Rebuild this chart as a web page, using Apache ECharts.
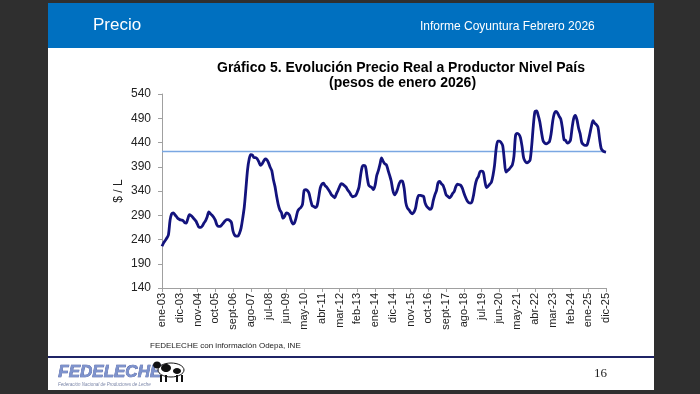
<!DOCTYPE html>
<html><head><meta charset="utf-8">
<script src="https://cdn.jsdelivr.net/npm/echarts@6/dist/echarts.min.js"></script>
<style>html,body{margin:0;padding:0;background:#2f2f2f}#c{width:700px;height:394px}</style>
</head><body><div id="c"></div>
<script>
const monthNames = ['ene','feb','mar','abr','may','jun','jul','ago','sept','oct','nov','dic'];
const years = ['03','04','05','06','07','08','09','10','11','12','13','14','15','16','17','18','19','20','21','22','23','24','25'];
const price = [
226,233,238,243,250,280,293,295,291,287,283,281,
280,279,275,274,283,291,289,286,282,278,271,265,
265,268,274,279,287,297,293,290,286,280,270,267,
267,270,274,278,281,281,279,275,257,249,247,247,
253,264,284,308,346,384,406,415,414,409,409,406,
400,393,396,402,406,404,398,389,382,363,349,329,
312,301,295,284,288,295,294,290,279,272,274,284,
298,303,306,312,341,343,341,336,322,310,308,306,
309,326,346,354,356,351,348,343,338,332,329,326,
334,341,349,355,354,351,348,342,338,332,328,329,
331,338,348,372,390,393,391,370,352,349,347,343,
352,372,382,395,408,401,396,394,383,372,360,341,
332,336,345,356,361,360,345,316,305,301,296,293,
296,304,322,331,331,330,329,315,308,305,302,305,
320,332,341,357,360,355,352,343,332,329,326,329,
335,339,349,354,353,352,346,336,327,320,316,315,
318,332,352,364,370,380,381,379,360,347,350,354,
358,372,394,428,443,443,440,434,405,379,382,385,
389,394,412,455,459,457,450,432,408,401,398,400,
404,434,475,504,505,496,483,462,444,439,437,439,
442,458,484,500,504,501,494,488,470,446,444,439,
440,445,470,490,496,487,470,458,440,436,434,434,
443,458,474,485,480,477,472,448,428,423,421,420
];
const yTicks = [140,190,240,290,340,390,440,490,540];
const refValue = 421;

const categories = [];
years.forEach(y => monthNames.forEach(m => categories.push(m + '-' + y)));

const chart = echarts.init(document.getElementById('c'), null, {renderer:'canvas'});
const F = 'Liberation Sans, Arial, sans-serif';
chart.setOption({
  backgroundColor: '#2f2f2f',
  animation: false,
  graphic: [
    {type:'rect', z:-10, shape:{x:48,y:3,width:606,height:387}, style:{fill:'#ffffff'}},
    {type:'rect', z:-9, shape:{x:48,y:3,width:606,height:45}, style:{fill:'#0070c0'}},
    {type:'text', z:-8, left:93, top:17, style:{text:'Precio', fill:'#ffffff', font:'17px '+F}},
    {type:'text', z:-8, left:420, top:21, style:{text:'Informe Coyuntura Febrero 2026', fill:'#ffffff', font:'12px '+F}},
    {type:'text', z:-8, left:217, top:61, style:{text:'Gráfico 5. Evolución Precio Real a Productor Nivel País', fill:'#000', font:'bold 14px '+F}},
    {type:'text', z:-8, left:329, top:76, style:{text:'(pesos de enero 2026)', fill:'#000', font:'bold 14px '+F}},
    {type:'text', z:-8, left:150, top:342, style:{text:'FEDELECHE con información Odepa, INE', fill:'#222', font:'8px '+F}},
    {type:'rect', z:-8, shape:{x:48,y:356,width:606,height:2}, style:{fill:'#1f2466'}},
    {type:'text', z:-8, left:58, top:364, style:{text:'FEDELECHE', fill:'#7d92cc', font:'italic bold 17px '+F, stroke:'#2b3f8f', lineWidth:0.6}},
    {type:'text', z:-8, left:58, top:382, style:{text:'Federación Nacional de Productores de Leche', fill:'#7b86a8', font:'italic 4.5px '+F}},
    {type:'ellipse', z:-8, shape:{cx:171,cy:370,rx:13,ry:7}, style:{fill:'#ffffff', stroke:'#111', lineWidth:1}},
    {type:'ellipse', z:-7, shape:{cx:166,cy:368,rx:5,ry:4}, style:{fill:'#111'}},
    {type:'ellipse', z:-7, shape:{cx:177,cy:371,rx:4,ry:3}, style:{fill:'#111'}},
    {type:'ellipse', z:-7, shape:{cx:157,cy:365,rx:4,ry:3.5}, style:{fill:'#111'}},
    {type:'rect', z:-8, shape:{x:160,y:375,width:2,height:7}, style:{fill:'#111'}},
    {type:'rect', z:-8, shape:{x:165,y:375,width:2,height:7}, style:{fill:'#111'}},
    {type:'rect', z:-8, shape:{x:176,y:375,width:2,height:7}, style:{fill:'#111'}},
    {type:'rect', z:-8, shape:{x:181,y:375,width:2,height:7}, style:{fill:'#111'}},
    {type:'text', z:-8, left:594, top:367, style:{text:'16', fill:'#222', font:'13px Liberation Serif, serif'}}
  ],
  grid: {left:162, right:94, top:94, bottom:106, containLabel:false},
  xAxis: {
    type:'category', data:categories, boundaryGap:false,
    axisLine:{lineStyle:{color:'#a0a0a0', width:1}},
    axisTick:{show:true, interval:10, length:4, lineStyle:{color:'#a0a0a0'}},
    axisLabel:{interval:10, rotate:90, fontSize:11, color:'#222', fontFamily:F, margin:5},
    splitLine:{show:false}
  },
  yAxis: {
    type:'value', min:140, max:540,
    name:'$ / L', nameLocation:'middle', nameRotate:90, nameGap:37, nameMoveOverlap:false,
    nameTextStyle:{fontSize:12, color:'#222', fontFamily:F},
    axisLine:{show:true, lineStyle:{color:'#a0a0a0'}},
    axisTick:{show:true, length:4, customValues:yTicks, lineStyle:{color:'#a0a0a0'}},
    axisLabel:{fontSize:12, color:'#222', fontFamily:F, margin:11, customValues:yTicks},
    splitLine:{show:false}
  },
  series: [{
    type:'line', data:price, showSymbol:false, smooth:0.3, z:3,
    lineStyle:{color:'#13137d', width:2.8},
    markLine:{silent:true, symbol:['none','none'], label:{show:false}, z:2,
      itemStyle:{color:'#7aa7e2'},
      lineStyle:{color:'#7aa7e2', width:1.3, type:'solid', opacity:1},
      data:[[{xAxis:0, yAxis:refValue}, {xAxis:categories.length-1, yAxis:refValue}]]}
  }]
});
</script></body></html>
